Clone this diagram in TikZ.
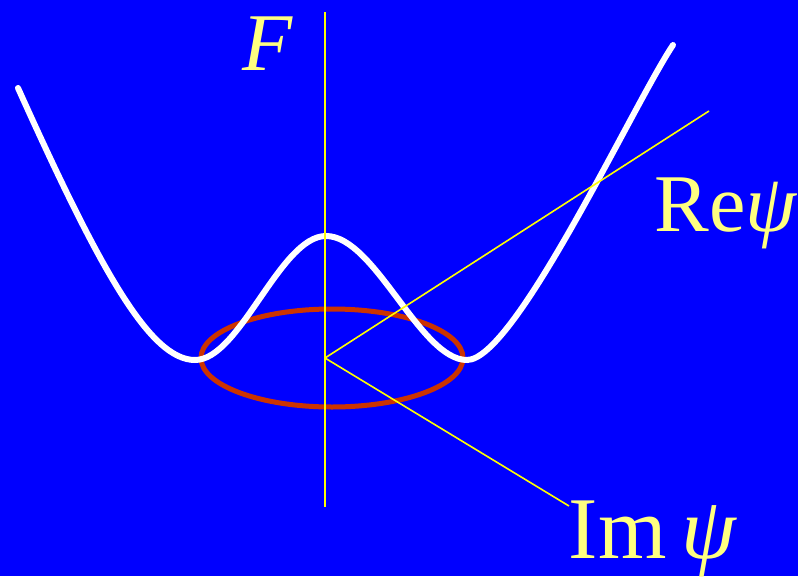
\documentclass[tikz,border=0pt]{standalone}
\usepackage{fontspec}
\setmainfont{Liberation Serif}
\usetikzlibrary{positioning}
\definecolor{BgBlue}{RGB}{0,0,255}
\definecolor{AxYellow}{RGB}{255,255,0}
\definecolor{LblYellow}{RGB}{255,255,128}
\definecolor{RingRed}{RGB}{204,51,0}

\begin{document}
\begin{tikzpicture}[x=1pt,y=-1pt,
  axis/.style={draw=AxYellow,line width=1.6pt},
  lbl/.style={text=LblYellow,inner sep=0pt,anchor=base}]
\fill[BgBlue] (0,0) rectangle (798,576);
\coordinate (o) at (325,358);\coordinate (top) at (325,12);\coordinate (bot) at (325,507);
\coordinate (re) at (709,111);\coordinate (im) at (569,506);\coordinate (c) at (332,358);
% ring of minima
\draw[draw=RingRed,line width=5pt] (c) ellipse (131pt and 49pt);
% double well
\draw[white,line width=6pt,line cap=round] (18,88) .. controls (100,270) and (150,360) .. (195,360)
  .. controls (240,360) and (280,236) .. (326,236)
  .. controls (375,236) and (420,360) .. (467,360)
  .. controls (515,360) and (633,105) .. (673,45);
\draw[axis] (top)--(bot);
\draw[axis] (o)--(re);\draw[axis] (o)--(im);
\node[lbl,font=\fontsize{82}{82}\selectfont] (F) at (268,70) {\textit{F}};
\node[lbl,font=\fontsize{82}{82}\selectfont] (relbl) at (726,231) {Re\textit{ψ}};
\node[lbl,font=\fontsize{88}{88}\selectfont] (imlbl) at (653,558) {Im\,\textit{ψ}};
\end{tikzpicture}
\end{document}
